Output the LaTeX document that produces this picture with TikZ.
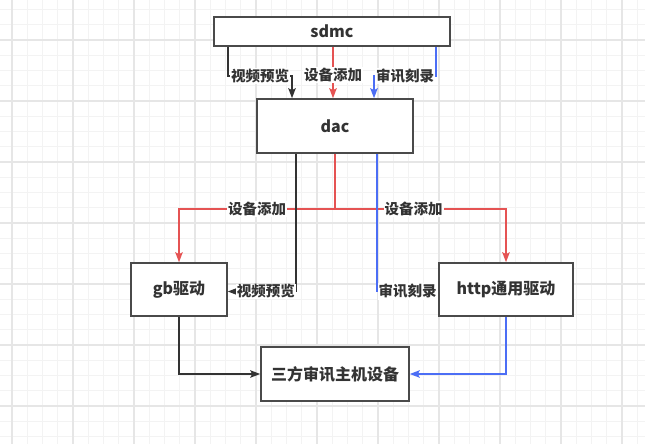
\documentclass[tikz,border=0pt]{standalone}
\usepackage{fontspec}
\setmainfont{Noto Sans CJK SC}
\usepackage{tikz}
\usetikzlibrary{arrows.meta, positioning}
\definecolor{boxline}{HTML}{4A4A4A}
\definecolor{txt}{HTML}{333333}
\definecolor{redline}{HTML}{E55353}
\definecolor{blueline}{HTML}{4C6EF5}
\definecolor{gridmajor}{HTML}{E6E6E6}
\definecolor{gridminor}{HTML}{F3F3F3}

\begin{document}
\begin{tikzpicture}  [
        x = 1pt, y = -1pt,
        box/.style = {rectangle, draw=boxline, line width=1.6pt, fill=white, text=txt,
                      font=\fontsize{16}{19}\selectfont\bfseries, inner sep=0pt},
        lbl/.style = {fill=white, text=txt, inner sep=1pt,
                      font=\fontsize{14.5}{16}\selectfont\bfseries},
        conn/.style = {line width=1.5pt, -{Stealth[length=10pt,width=7.5pt,inset=2pt]}},
        blk/.style = {conn, draw=txt},
        rd/.style  = {conn, draw=redline},
        bl/.style  = {conn, draw=blueline}
    ]

    % background grid
    \useasboundingbox (0,0) rectangle (645,444);
    \fill[white] (0,0) rectangle (645,444);
    \begin{scope}
    \clip (0,0) rectangle (645,444);
    \foreach \i in {0,...,43} {
        \draw[gridminor, line width=0.8pt] ({-3.25+15.25*\i},0) -- ++(0,444);
        \draw[gridminor, line width=0.8pt] (0,{-5.75+15.25*\i}) -- ++(645,0);
    }
    \foreach \i in {0,...,10} {
        \draw[gridmajor, line width=1.2pt] ({12+61*\i},0) -- ++(0,444);
        \draw[gridmajor, line width=1.2pt] (0,{40+61*(\i-1)}) -- ++(645,0);
    }
    \end{scope}

    % boxes
    \node[box, minimum width=236pt, minimum height=29pt] (sdmc) at (332,31.5) {sdmc};
    \node[box, minimum width=156pt, minimum height=54pt] (dac)  at (335,126)  {dac};
    \node[box, minimum width=96pt,  minimum height=53pt] (gb)   at (179,289.5) {gb驱动};
    \node[box, minimum width=134pt, minimum height=53pt] (http) at (506,289.5) {http通用驱动};
    \node[box, minimum width=148pt, minimum height=54pt] (host) at (335,374)  {三方审讯主机设备};

    % sdmc -> dac
    \draw[blk] ([xshift=-104pt]sdmc.south) -- ++(0,29) -| ([xshift=-43pt]dac.north)
        node[lbl, pos=0.25] {视频预览};
    \draw[rd] ([xshift=1pt]sdmc.south) -- ([xshift=-2pt]dac.north)
        node[lbl, pos=0.55] {设备添加};
    \draw[bl] ([xshift=104pt]sdmc.south) -- ++(0,29) -| ([xshift=39pt]dac.north)
        node[lbl, pos=0.25] {审讯刻录};

    % dac -> drivers
    \draw[rd] (dac.south) -- ++(0,55) -| (gb.north)
        node[lbl, pos=0.25] {设备添加};
    \draw[rd] (dac.south) -- ++(0,55) -| (http.north)
        node[lbl, pos=0.23] {设备添加};
    \draw[blk] ([xshift=-39pt]dac.south) |- ([yshift=-2pt]gb.east)
        node[lbl, pos=0.72] {视频预览};
    \draw[bl] ([xshift=42pt]dac.south) |- ([yshift=-2pt]http.west)
        node[lbl, pos=0.75] {审讯刻录};

    % drivers -> host
    \draw[blk] (gb.south) |- (host.west);
    \draw[bl]  (http.south) |- (host.east);

\end{tikzpicture}
\end{document}
